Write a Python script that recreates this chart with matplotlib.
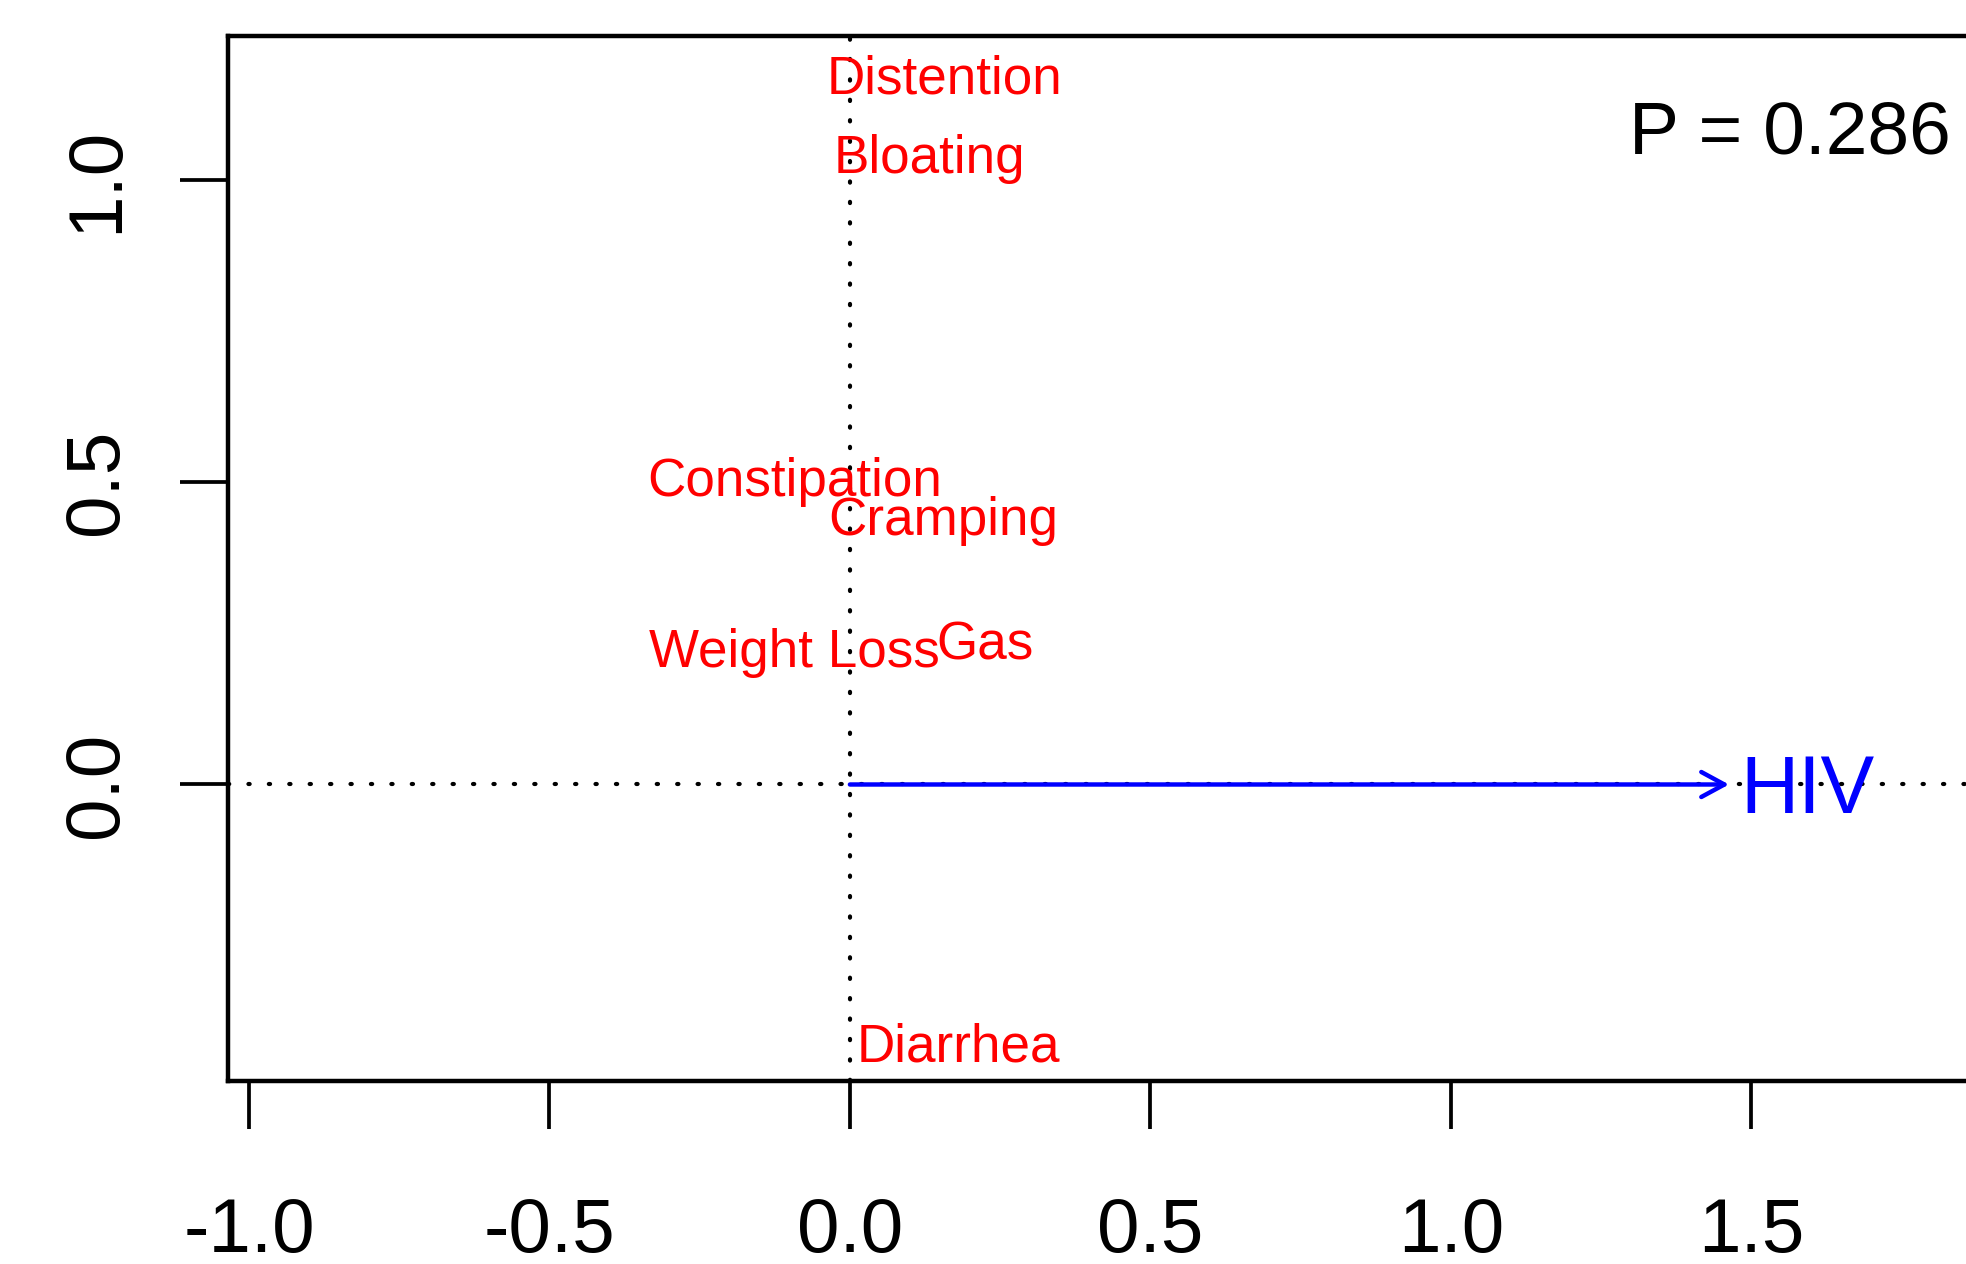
import matplotlib
matplotlib.use("Agg")
import matplotlib.pyplot as plt
from matplotlib.patches import ArrowStyle
from matplotlib.transforms import ScaledTranslation

plt.rcParams['font.family'] = ['Liberation Sans', 'DejaVu Sans']

# species scores (label centres)
species = ["Distention", "Bloating", "Constipation", "Cramping", "Weight Loss", "Gas", "Diarrhea"]
sp_x = [0.158, 0.133, -0.092, 0.156, -0.092, 0.225, 0.180]
sp_y = [1.174, 1.042, 0.509, 0.444, 0.226, 0.238, -0.427]

# biplot arrow for the constraint
env_name = "HIV"
env_x = 1.463
env_y = 0.0
env_lab_x = 1.594
env_lab_y = 0.0

p_text = "P = 0.286"

xticks = [-1.0, -0.5, 0.0, 0.5, 1.0, 1.5, 2.0]
yticks = [0.0, 0.5, 1.0]

DPI = 100
fig = plt.figure(figsize=(19.66, 12.64), dpi=DPI)
# plot region runs off the right side of the picture
ax = fig.add_axes([228 / 1966, 1 - 1081 / 1264, 2004 / 1966, 1045 / 1264])
ax.set_xlim(-1.0349, 2.3)
ax.set_ylim(-0.4901, 1.2372)

for s in ax.spines.values():
    s.set_linewidth(3.2)

ax.set_xticks(xticks)
ax.set_xticklabels(["%.1f" % v for v in xticks])
ax.set_yticks(yticks)
ax.set_yticklabels(["%.1f" % v for v in yticks])
ax.tick_params(axis='both', direction='out', length=34.5, width=2.7, labelsize=55)
ax.tick_params(axis='x', pad=49)
ax.tick_params(axis='y', pad=34)
for lab in ax.get_yticklabels():
    lab.set_rotation(90)
    lab.set_va('center')

dot = (0, (0.3, 4.6))
ax.axhline(0, color='black', lw=3.0, linestyle=dot, dash_capstyle='round', zorder=1)
ax.axvline(0, color='black', lw=3.0, linestyle=dot, dash_capstyle='round', zorder=1)

ax.annotate("", xy=(env_x, env_y), xytext=(0, 0),
            arrowprops=dict(arrowstyle=ArrowStyle('->', head_length=16.6, head_width=9),
                            mutation_scale=1, color='blue', lw=3.2,
                            shrinkA=0, shrinkB=0))

def centred(fs):
    # R centres text on half the cap height
    return ax.transData + ScaledTranslation(0, -0.358 * fs / 72, fig.dpi_scale_trans)

fs_sp = 38.2
for name, x, y in zip(species, sp_x, sp_y):
    ax.text(x, y, name, color='red', fontsize=fs_sp, ha='center', va='baseline',
            transform=centred(fs_sp))

fs_env = 58
ax.text(env_lab_x, env_lab_y, env_name, color='blue', fontsize=fs_env,
        ha='center', va='baseline', transform=centred(fs_env))

fig.text(1951 / 1966, 1 - 154 / 1264, p_text, fontsize=54, ha='right', va='baseline')

fig.savefig("out.png", dpi=DPI)
